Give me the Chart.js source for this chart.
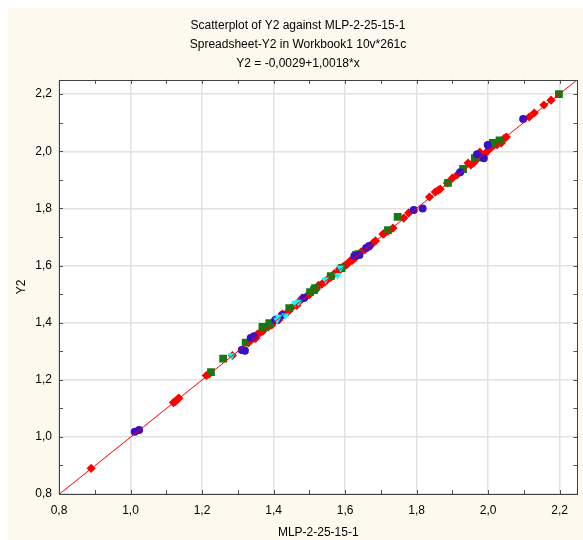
<!DOCTYPE html>
<html>
<head>
<meta charset="utf-8">
<script src="https://cdn.jsdelivr.net/npm/chart.js@4.4.1/dist/chart.umd.min.js"></script>
<style>
  html, body { margin: 0; padding: 0; background: #fff; }
</style>
</head>
<body>
<canvas id="scatterChart" width="583" height="540"></canvas>
<script>
// Giá trị (x = MLP-2-25-15-1, y = Y2)
const redX = [0.89, 1.12, 1.125, 1.13, 1.135, 1.212, 1.22, 1.285,
  1.33, 1.335, 1.345, 1.35, 1.355, 1.36, 1.37, 1.385, 1.395, 1.40, 1.415, 1.425,
  1.44, 1.45, 1.465, 1.475, 1.48, 1.49, 1.50, 1.51, 1.52, 1.526, 1.535, 1.543,
  1.55, 1.56, 1.57, 1.58, 1.585, 1.59, 1.595, 1.60, 1.605, 1.609, 1.615, 1.62,
  1.63, 1.645, 1.655, 1.67, 1.678, 1.685, 1.706, 1.709, 1.72, 1.734, 1.764, 1.778,
  1.836, 1.852, 1.861, 1.866, 1.886, 1.90, 1.913, 1.944, 1.952, 1.96, 1.968, 1.977,
  1.98, 1.99, 2.0, 2.005, 2.015, 2.025, 2.037, 2.045, 2.051, 2.115, 2.129, 2.156, 2.176];
const redY = [0.89, 1.12, 1.123, 1.13, 1.136, 1.215, 1.22, 1.285,
  1.33, 1.338, 1.345, 1.345, 1.36, 1.362, 1.37, 1.385, 1.392, 1.405, 1.41, 1.43,
  1.438, 1.452, 1.46, 1.478, 1.486, 1.49, 1.498, 1.512, 1.518, 1.531, 1.535, 1.542,
  1.55, 1.558, 1.572, 1.578, 1.59, 1.591, 1.596, 1.60, 1.604, 1.609, 1.617, 1.618,
  1.628, 1.648, 1.655, 1.668, 1.679, 1.686, 1.71, 1.712, 1.72, 1.731, 1.766, 1.784,
  1.84, 1.857, 1.864, 1.868, 1.889, 1.906, 1.917, 1.959, 1.952, 1.96, 1.972, 1.997,
  1.985, 1.99, 2.003, 2.01, 2.02, 2.023, 2.029, 2.045, 2.05, 2.12, 2.134, 2.162, 2.179];

const blueX = [1.012, 1.024, 1.311, 1.32, 1.336, 1.345, 1.405, 1.41, 1.424, 1.485,
  1.626, 1.64, 1.659, 1.667, 1.792, 1.817, 1.922, 1.969, 1.988, 1.999, 2.098];
const blueY = [1.018, 1.024, 1.304, 1.302, 1.346, 1.352, 1.409, 1.412, 1.427, 1.486,
  1.633, 1.637, 1.661, 1.668, 1.794, 1.80, 1.927, 1.99, 1.976, 2.022, 2.113];

const greenX = [1.225, 1.259, 1.322, 1.369, 1.377, 1.388, 1.444, 1.502, 1.513, 1.516,
  1.56, 1.59, 1.631, 1.637, 1.72, 1.747, 1.888, 1.93, 1.963, 1.97, 2.013, 2.032, 2.198];
const greenY = [1.227, 1.274, 1.33, 1.385, 1.385, 1.398, 1.451, 1.507, 1.514, 1.521,
  1.563, 1.591, 1.637, 1.64, 1.724, 1.77, 1.889, 1.938, 1.976, 1.978, 2.029, 2.038, 2.2];

const cyanX = [1.283, 1.41, 1.413, 1.433, 1.46, 1.47, 1.545, 1.579, 1.587];
const cyanY = [1.285, 1.409, 1.42, 1.425, 1.469, 1.472, 1.55, 1.566, 1.591];

// Đường hồi quy Y2 = -0,0029 + 1,0018*x, tại hai đầu trục
const fitX = [0.8, 2.25];
const fitY = [0.7985, 2.2512];

const majorTicks = [0.8, 1.0, 1.2, 1.4, 1.6, 1.8, 2.0, 2.2];
const minorTicks = [0.9, 1.1, 1.3, 1.5, 1.7, 1.9, 2.1];

const titleLines = [
  "Scatterplot of Y2 against MLP-2-25-15-1",
  "Spreadsheet-Y2 in Workbook1 10v*261c",
  "Y2 = -0,0029+1,0018*x"
];

const FONT = "Arial, 'Liberation Sans', sans-serif";

function toPoints(xs, ys) {
  return xs.map((x, i) => ({ x: x, y: ys[i] }));
}

function fmt(v) {
  return v.toFixed(1).replace(".", ",");
}

// Nền kem, vùng vẽ trắng, khung và vạch chia hướng vào trong
const framePlugin = {
  id: "frame",
  beforeDraw(chart) {
    const { ctx, chartArea: a } = chart;
    ctx.save();
    ctx.fillStyle = "#ffffff";
    ctx.fillRect(0, 0, chart.width, chart.height);
    ctx.fillStyle = "#fdf9ee";
    ctx.fillRect(8, 8, chart.width - 8, chart.height - 8);
    ctx.fillStyle = "#ffffff";
    ctx.fillRect(a.left, a.top, a.right - a.left, a.bottom - a.top);
    ctx.restore();
  },
  afterDraw(chart) {
    const { ctx, chartArea: a, scales } = chart;
    ctx.save();
    ctx.strokeStyle = "#505050";
    ctx.lineWidth = 1;
    ctx.beginPath();
    [...majorTicks, ...minorTicks].forEach(v => {
      const px = Math.round(scales.x.getPixelForValue(v)) + 0.5;
      const py = Math.round(scales.y.getPixelForValue(v)) + 0.5;
      ctx.moveTo(px, a.bottom); ctx.lineTo(px, a.bottom - 4);
      ctx.moveTo(px, a.top); ctx.lineTo(px, a.top + 4);
      ctx.moveTo(a.left, py); ctx.lineTo(a.left + 4, py);
      ctx.moveTo(a.right, py); ctx.lineTo(a.right - 4, py);
    });
    ctx.stroke();
    ctx.strokeStyle = "#404040";
    ctx.strokeRect(Math.round(a.left) + 0.5, Math.round(a.top) + 0.5,
      Math.round(a.right - a.left) - 1, Math.round(a.bottom - a.top));
    ctx.restore();
  }
};

const axisCommon = {
  type: "linear",
  min: 0.8,
  max: 2.25,
  afterBuildTicks: axis => { axis.ticks = majorTicks.map(v => ({ value: v })); },
  grid: {
    color: "#e2e2e2",
    lineWidth: 1.5,
    drawTicks: false
  },
  border: { display: false },
  ticks: {
    color: "#000",
    font: { family: FONT, size: 12 },
    callback: v => fmt(v)
  }
};

const ctx = document.getElementById("scatterChart").getContext("2d");
new Chart(ctx, {
  type: "scatter",
  data: {
    datasets: [
      {
        type: "line",
        data: toPoints(fitX, fitY),
        borderColor: "#ff0000",
        borderWidth: 1,
        pointRadius: 0,
        order: 0
      },
      {
        data: toPoints(cyanX, cyanY),
        pointStyle: "triangle",
        rotation: 180,
        pointRadius: 4.5,
        backgroundColor: "#00ffff",
        borderWidth: 0,
        order: 1
      },
      {
        data: toPoints(blueX, blueY),
        pointStyle: "circle",
        pointRadius: 4,
        backgroundColor: "#3a0fc8",
        borderWidth: 0,
        order: 2
      },
      {
        data: toPoints(greenX, greenY),
        pointStyle: "rect",
        pointRadius: 5.5,
        backgroundColor: "#127c12",
        borderWidth: 0,
        order: 3
      },
      {
        data: toPoints(redX, redY),
        pointStyle: "rectRot",
        pointRadius: 4.6,
        backgroundColor: "#ff0000",
        borderWidth: 0,
        order: 4
      }
    ]
  },
  options: {
    responsive: false,
    animation: false,
    layout: { padding: { left: 14, right: 1, top: 8, bottom: 0 } },
    plugins: {
      legend: { display: false },
      tooltip: { enabled: false },
      title: {
        display: true,
        text: titleLines,
        color: "#000",
        font: { family: FONT, size: 12, weight: "normal", lineHeight: 1.58 },
        padding: { top: 8, bottom: 7 }
      }
    },
    scales: {
      x: {
        ...axisCommon,
        afterFit: scale => { scale.height = 46; },
        ticks: { ...axisCommon.ticks, padding: 9, maxRotation: 0 },
        title: {
          display: true,
          text: "MLP-2-25-15-1",
          color: "#000",
          font: { family: FONT, size: 12 },
          padding: { top: 0, bottom: 0 }
        }
      },
      y: {
        ...axisCommon,
        afterFit: scale => { scale.width = 45; },
        ticks: { ...axisCommon.ticks, padding: 7 },
        title: {
          display: true,
          text: "Y2",
          color: "#000",
          font: { family: FONT, size: 12 },
          padding: { top: 0, bottom: 0 }
        }
      }
    }
  },
  plugins: [framePlugin]
});
</script>
</body>
</html>
